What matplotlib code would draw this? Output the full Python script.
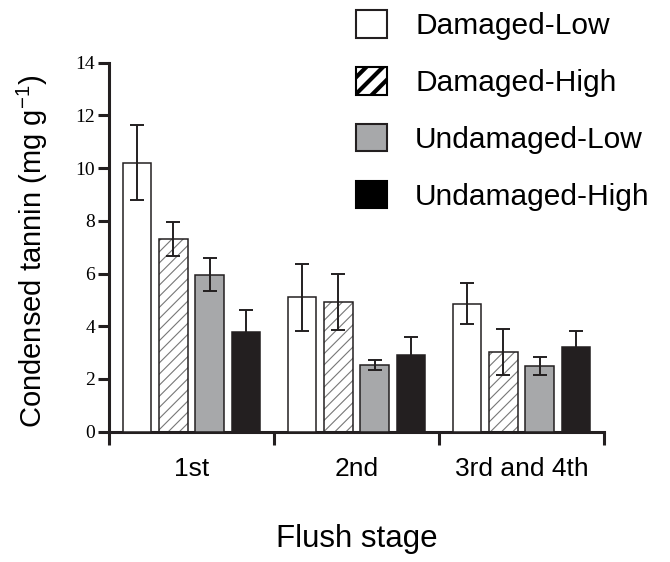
import numpy as np
import matplotlib
matplotlib.use("Agg")
import matplotlib.pyplot as plt
from matplotlib.patches import Patch

# =========================
# DATA
# =========================
stages = ["1st", "2nd", "3rd and 4th"]
treatments = ["Damaged-Low", "Damaged-High", "Undamaged-Low", "Undamaged-High"]

damaged_low = [10.2, 5.1, 4.85]
damaged_high = [7.3, 4.92, 3.02]
undamaged_low = [5.95, 2.53, 2.49]
undamaged_high = [3.8, 2.92, 3.21]

err_damaged_low = [1.42, 1.27, 0.78]
err_damaged_high = [0.65, 1.05, 0.88]
err_undamaged_low = [0.63, 0.19, 0.34]
err_undamaged_high = [0.8, 0.67, 0.62]

means = [damaged_low, damaged_high, undamaged_low, undamaged_high]
errs = [err_damaged_low, err_damaged_high, err_undamaged_low, err_undamaged_high]

# =========================
# STYLE
# =========================
plt.rcParams['font.family'] = ['Liberation Sans', 'DejaVu Sans']
plt.rcParams['mathtext.default'] = 'regular'
plt.rcParams['hatch.linewidth'] = 0.8

DARK = "#231f20"
GRAY = "#a7a8aa"
HATCH_COL = "#777777"

fills = ["white", "white", GRAY, DARK]
hatches = [None, "///", None, None]
offsets = [-0.33, -0.11, 0.11, 0.33]
width = 0.172

fig = plt.figure(figsize=(6.7, 5.62), dpi=100)
ax = fig.add_axes([0.1627, 0.2319, 0.7388, 0.6566])

centers = np.arange(len(stages)) + 0.5

for i in range(len(treatments)):
    x = centers + offsets[i]
    if hatches[i]:
        ax.bar(x, means[i], width, color=fills[i], edgecolor=HATCH_COL,
               hatch=hatches[i], linewidth=0, zorder=2)
        ax.bar(x, means[i], width, fill=False, edgecolor=DARK,
               linewidth=1.1, zorder=3)
    else:
        ax.bar(x, means[i], width, color=fills[i], edgecolor=DARK,
               linewidth=1.1, zorder=3)
    ax.errorbar(x, means[i], yerr=errs[i], fmt="none", ecolor=DARK,
                elinewidth=1.4, capsize=4.7, capthick=1.4, zorder=4)

# axes
ax.set_xlim(0, 3)
ax.set_ylim(0, 14)
ax.spines['top'].set_visible(False)
ax.spines['right'].set_visible(False)
ax.spines['left'].set_linewidth(2.2)
ax.spines['bottom'].set_linewidth(2.2)
ax.spines['left'].set_color(DARK)
ax.spines['bottom'].set_color(DARK)

ax.set_yticks(np.arange(0, 15, 2))
ax.tick_params(axis='y', length=8, width=2.2, pad=2, labelsize=14, color=DARK)
for lbl in ax.get_yticklabels():
    lbl.set_fontfamily('Liberation Serif')

ax.set_xticks([0, 1, 2, 3])
ax.set_xticklabels([])
ax.tick_params(axis='x', which='major', length=9, width=2.2, color=DARK)
ax.set_xticks(centers, minor=True)
ax.set_xticklabels(stages, minor=True, fontsize=19)
ax.tick_params(axis='x', which='minor', length=0, pad=18)

ax.set_ylabel("Condensed tannin (mg g$^{-1}$)", fontsize=21)
ax.yaxis.set_label_coords(-0.12, 0.49)
ax.set_xlabel("Flush stage", fontsize=22.5)
ax.xaxis.set_label_coords(0.5, -0.25)

# legend (thicker black hatching in the key)
with plt.rc_context({'hatch.linewidth': 3.0}):
    handles = [
        Patch(facecolor="white", edgecolor=DARK, linewidth=1.5),
        Patch(facecolor="white", edgecolor="black", linewidth=1.5, hatch="//"),
        Patch(facecolor=GRAY, edgecolor=DARK, linewidth=1.5),
        Patch(facecolor="black", edgecolor="black", linewidth=1.5),
    ]
    fig.legend(handles, treatments, loc="upper left",
               bbox_to_anchor=(0.513, 1.003), frameon=False, fontsize=21.5,
               handlelength=1.04, handleheight=1.04, handletextpad=0.95,
               labelspacing=0.9, borderaxespad=0)

plt.savefig("out.png", dpi=100)
